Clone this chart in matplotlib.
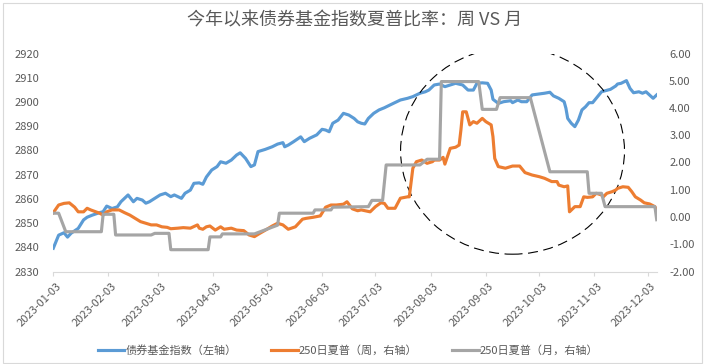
import matplotlib
matplotlib.use('Agg')
import matplotlib.pyplot as plt
import matplotlib.dates as mdates
from matplotlib.ticker import FormatStrFormatter, MultipleLocator
from matplotlib.patches import Ellipse, Rectangle
import matplotlib.transforms as mtransforms
import pandas as pd

plt.rcParams['font.family'] = ['Noto Sans CJK SC', 'DejaVu Sans']
plt.rcParams['axes.unicode_minus'] = False

TITLE = '今年以来债券基金指数夏普比率：周 VS 月'
LABEL_INDEX = '债券基金指数（左轴）'
LABEL_WEEK = '250日夏普（周，右轴）'
LABEL_MONTH = '250日夏普（月，右轴）'

# bond fund index (left axis)
index_dates = ['2023-01-03', '2023-01-06', '2023-01-09', '2023-01-11', '2023-01-13', '2023-01-17',
               '2023-01-20', '2023-01-22', '2023-01-25', '2023-01-29', '2023-01-31', '2023-02-02',
               '2023-02-05', '2023-02-08', '2023-02-10', '2023-02-12', '2023-02-14', '2023-02-17',
               '2023-02-19', '2023-02-22', '2023-02-24', '2023-02-26', '2023-03-01', '2023-03-04',
               '2023-03-07', '2023-03-10', '2023-03-12', '2023-03-14', '2023-03-16', '2023-03-18',
               '2023-03-21', '2023-03-23', '2023-03-26', '2023-03-28', '2023-03-30', '2023-04-02',
               '2023-04-05', '2023-04-07', '2023-04-10', '2023-04-13', '2023-04-16', '2023-04-18',
               '2023-04-21', '2023-04-24', '2023-04-26', '2023-04-28', '2023-05-02', '2023-05-06',
               '2023-05-09', '2023-05-12', '2023-05-13', '2023-05-15', '2023-05-18', '2023-05-22',
               '2023-05-24', '2023-05-27', '2023-05-31', '2023-06-03', '2023-06-05', '2023-06-07',
               '2023-06-09', '2023-06-12', '2023-06-15', '2023-06-18', '2023-06-21', '2023-06-23',
               '2023-06-25', '2023-06-27', '2023-06-29', '2023-07-02', '2023-07-05', '2023-07-08',
               '2023-07-11', '2023-07-13', '2023-07-17', '2023-07-21', '2023-07-24', '2023-07-28',
               '2023-07-31', '2023-08-02', '2023-08-05', '2023-08-08', '2023-08-11', '2023-08-14',
               '2023-08-17', '2023-08-21', '2023-08-24', '2023-08-27', '2023-08-29', '2023-09-01',
               '2023-09-04', '2023-09-06', '2023-09-07', '2023-09-10', '2023-09-13', '2023-09-17',
               '2023-09-18', '2023-09-21', '2023-09-23', '2023-09-26', '2023-09-29', '2023-10-03',
               '2023-10-06', '2023-10-09', '2023-10-11', '2023-10-14', '2023-10-17', '2023-10-18',
               '2023-10-19', '2023-10-21', '2023-10-23', '2023-10-25', '2023-10-27', '2023-10-29',
               '2023-10-31', '2023-11-02', '2023-11-04', '2023-11-07', '2023-11-09', '2023-11-12',
               '2023-11-15', '2023-11-16', '2023-11-18', '2023-11-21', '2023-11-23', '2023-11-25',
               '2023-11-28', '2023-11-30', '2023-12-02', '2023-12-05', '2023-12-06', '2023-12-08']
index_values = [2839.6, 2845.0, 2846.0, 2844.2, 2845.8, 2847.8,
                2851.3, 2852.4, 2853.3, 2854.3, 2854.7, 2857.0,
                2856.0, 2856.7, 2858.8, 2860.2, 2861.6, 2858.8,
                2860.2, 2859.5, 2858.2, 2858.8, 2860.2, 2861.6,
                2862.3, 2860.9, 2861.6, 2860.9, 2860.2, 2862.3,
                2863.6, 2866.4, 2866.6, 2866.0, 2869.0, 2871.9,
                2873.3, 2875.3, 2874.7, 2876.0, 2878.1, 2879.0,
                2876.7, 2873.3, 2874.0, 2879.5, 2880.4, 2881.5,
                2882.6, 2883.2, 2881.5, 2882.2, 2883.6, 2885.6,
                2883.6, 2885.0, 2886.4, 2888.7, 2888.4, 2887.7,
                2891.2, 2892.5, 2895.3, 2894.6, 2893.2, 2891.8,
                2891.2, 2890.9, 2893.2, 2895.3, 2896.7, 2897.6,
                2898.7, 2899.4, 2900.8, 2901.5, 2902.2, 2903.6,
                2904.2, 2904.9, 2907.0, 2907.4, 2906.3, 2907.0,
                2907.7, 2907.0, 2904.9, 2904.9, 2907.7, 2907.9,
                2907.7, 2904.9, 2901.1, 2899.4, 2900.1, 2900.5,
                2899.7, 2900.8, 2900.1, 2900.1, 2902.9, 2903.3,
                2903.6, 2904.0, 2902.5, 2901.5, 2900.1, 2897.4,
                2893.2, 2891.2, 2889.8, 2892.5, 2896.7, 2898.0,
                2899.7, 2899.7, 2901.5, 2904.2, 2904.6, 2905.2,
                2906.6, 2907.4, 2907.7, 2908.8, 2905.6, 2903.8,
                2904.2, 2903.6, 2904.2, 2902.2, 2901.5, 2902.9]

# 250-day Sharpe, weekly (right axis)
weekly_dates = ['2023-01-03', '2023-01-06', '2023-01-09', '2023-01-12', '2023-01-15', '2023-01-17',
                '2023-01-20', '2023-01-22', '2023-01-24', '2023-01-29', '2023-01-31', '2023-02-02',
                '2023-02-05', '2023-02-09', '2023-02-12', '2023-02-15', '2023-02-18', '2023-02-21',
                '2023-02-24', '2023-02-27', '2023-03-02', '2023-03-05', '2023-03-08', '2023-03-10',
                '2023-03-14', '2023-03-17', '2023-03-21', '2023-03-25', '2023-03-26', '2023-03-28',
                '2023-03-30', '2023-04-01', '2023-04-04', '2023-04-07', '2023-04-09', '2023-04-13',
                '2023-04-16', '2023-04-20', '2023-04-23', '2023-04-26', '2023-04-29', '2023-05-03',
                '2023-05-06', '2023-05-09', '2023-05-12', '2023-05-15', '2023-05-19', '2023-05-23',
                '2023-05-25', '2023-05-29', '2023-06-02', '2023-06-05', '2023-06-08', '2023-06-11',
                '2023-06-15', '2023-06-17', '2023-06-20', '2023-06-23', '2023-06-25', '2023-06-30',
                '2023-07-03', '2023-07-06', '2023-07-08', '2023-07-10', '2023-07-14', '2023-07-17',
                '2023-07-21', '2023-07-22', '2023-07-24', '2023-07-26', '2023-07-29', '2023-08-01',
                '2023-08-04', '2023-08-05', '2023-08-08', '2023-08-10', '2023-08-11', '2023-08-14',
                '2023-08-17', '2023-08-19', '2023-08-20', '2023-08-21', '2023-08-23', '2023-08-25',
                '2023-08-27', '2023-08-29', '2023-09-01', '2023-09-03', '2023-09-06', '2023-09-07',
                '2023-09-08', '2023-09-10', '2023-09-14', '2023-09-18', '2023-09-22', '2023-09-25',
                '2023-09-29', '2023-10-03', '2023-10-06', '2023-10-10', '2023-10-13', '2023-10-14',
                '2023-10-17', '2023-10-19', '2023-10-20', '2023-10-23', '2023-10-26', '2023-10-28',
                '2023-10-30', '2023-11-02', '2023-11-04', '2023-11-07', '2023-11-08', '2023-11-10',
                '2023-11-13', '2023-11-15', '2023-11-16', '2023-11-19', '2023-11-22', '2023-11-24',
                '2023-11-26', '2023-11-29', '2023-12-01', '2023-12-04', '2023-12-07', '2023-12-08']
weekly_sharpe = [0.16, 0.44, 0.50, 0.52, 0.36, 0.19,
                 0.19, 0.32, 0.26, 0.14, 0.07, 0.19,
                 0.26, 0.26, 0.16, 0.07, -0.05, -0.17,
                 -0.23, -0.29, -0.29, -0.36, -0.38, -0.43,
                 -0.41, -0.39, -0.41, -0.29, -0.41, -0.45,
                 -0.36, -0.33, -0.48, -0.36, -0.45, -0.41,
                 -0.48, -0.50, -0.66, -0.72, -0.60, -0.45,
                 -0.33, -0.23, -0.29, -0.45, -0.36, -0.08,
                 -0.05, -0.01, 0.04, 0.36, 0.44, 0.44,
                 0.47, 0.56, 0.30, 0.23, 0.26, 0.19,
                 0.38, 0.52, 0.50, 0.32, 0.32, 0.69,
                 0.74, 0.74, 1.79, 2.03, 2.09, 1.97,
                 2.03, 2.09, 2.09, 2.19, 1.94, 2.52,
                 2.56, 2.64, 3.19, 3.86, 3.86, 3.38,
                 3.50, 3.44, 3.62, 3.50, 3.38, 2.95,
                 2.15, 1.85, 1.79, 1.87, 1.87, 1.63,
                 1.54, 1.48, 1.42, 1.30, 1.30, 1.17,
                 1.11, 1.14, 0.19, 0.38, 0.38, 0.74,
                 0.72, 0.74, 0.87, 0.81, 0.74, 0.87,
                 0.93, 0.99, 1.05, 1.11, 1.09, 0.93,
                 0.74, 0.62, 0.52, 0.48, 0.38, 0.22]

# 250-day Sharpe, monthly (right axis)
monthly_dates = ['2023-01-03', '2023-01-06', '2023-01-10', '2023-01-30', '2023-01-31', '2023-02-06',
                 '2023-02-07', '2023-02-27', '2023-03-01', '2023-03-09', '2023-03-10', '2023-03-31',
                 '2023-04-01', '2023-04-07', '2023-04-08', '2023-04-26', '2023-05-09', '2023-05-10',
                 '2023-05-29', '2023-05-30', '2023-06-08', '2023-06-09', '2023-06-29', '2023-07-01',
                 '2023-07-07', '2023-07-09', '2023-07-28', '2023-08-01', '2023-08-08', '2023-08-09',
                 '2023-08-30', '2023-09-01', '2023-09-09', '2023-09-11', '2023-09-28', '2023-10-09',
                 '2023-10-30', '2023-10-31', '2023-11-07', '2023-11-09', '2023-12-07', '2023-12-08']
monthly_sharpe = [0.14, 0.14, -0.54, -0.54, 0.10, 0.10,
                  -0.66, -0.66, -0.60, -0.60, -1.20, -1.20,
                  -0.73, -0.73, -0.62, -0.62, -0.30, 0.14,
                  0.14, 0.26, 0.26, 0.36, 0.38, 0.61,
                  0.61, 1.91, 1.91, 2.12, 2.12, 4.97,
                  4.97, 3.95, 3.95, 4.38, 4.38, 1.66,
                  1.66, 0.87, 0.87, 0.38, 0.38, -0.10]

month_ticks = ['2023-01-03', '2023-02-03', '2023-03-03', '2023-04-03', '2023-05-03', '2023-06-03',
               '2023-07-03', '2023-08-03', '2023-09-03', '2023-10-03', '2023-11-03', '2023-12-03']

BLUE = '#5B9BD5'
ORANGE = '#ED7D31'
GREY = '#A5A5A5'
TXT = '#595959'
LINE = '#D9D9D9'

fig = plt.figure(figsize=(7.05, 3.64), dpi=100)
ax1 = fig.add_axes([53.3 / 705, 1 - 271.5 / 364, 603.4 / 705, 218 / 364])
ax2 = ax1.twinx()

l1, = ax1.plot(pd.to_datetime(index_dates), index_values, color=BLUE, lw=2.25, label=LABEL_INDEX)
l2, = ax2.plot(pd.to_datetime(weekly_dates), weekly_sharpe, color=ORANGE, lw=2.25, label=LABEL_WEEK)
l3, = ax2.plot(pd.to_datetime(monthly_dates), monthly_sharpe, color=GREY, lw=2.25, label=LABEL_MONTH)

ax1.set_xlim(pd.Timestamp('2023-01-03'), pd.Timestamp('2023-12-08'))
ax1.set_ylim(2830, 2920)
ax1.yaxis.set_major_locator(MultipleLocator(10))
ax2.set_ylim(-2, 6)
ax2.yaxis.set_major_locator(MultipleLocator(1))
ax2.yaxis.set_major_formatter(FormatStrFormatter('%.2f'))

ax1.set_xticks(pd.to_datetime(month_ticks))
ax1.xaxis.set_major_formatter(mdates.DateFormatter('%Y-%m-%d'))

for s in ['top', 'left', 'right']:
    ax1.spines[s].set_visible(False)
for s in ax2.spines.values():
    s.set_visible(False)
ax1.spines['bottom'].set_color(LINE)
ax1.tick_params(axis='x', colors=LINE, length=3, width=0.8, labelcolor=TXT, labelsize=8, pad=4)
ax1.tick_params(axis='y', length=0, labelcolor=TXT, labelsize=8, pad=10)
ax2.tick_params(axis='y', length=0, labelcolor=TXT, labelsize=8, pad=9)

offset = mtransforms.ScaledTranslation(2 / 72, 0, fig.dpi_scale_trans)
for lab in ax1.get_xticklabels():
    lab.set_rotation(45)
    lab.set_ha('right')
    lab.set_va('top')
    lab.set_rotation_mode('anchor')
    lab.set_transform(lab.get_transform() + offset)

# dashed circle highlighting Aug-Nov
center = mdates.date2num(pd.Timestamp('2023-09-18'))
ax2.add_patch(Ellipse((center, 2.43), 125.8, 7.59, fill=False, edgecolor='black',
                      lw=0.8, linestyle=(0, (9, 5))))

fig.text(355 / 705, 1 - 20 / 364, TITLE, ha='center', va='center', fontsize=13, color=TXT)

fig.legend([l1, l2, l3], [LABEL_INDEX, LABEL_WEEK, LABEL_MONTH], loc='center',
           bbox_to_anchor=(348 / 705, 1 - 350 / 364), ncol=3, frameon=False,
           fontsize=8, labelcolor=TXT, handlelength=2.4, handletextpad=0.1,
           columnspacing=3.1)

fig.patches.append(Rectangle((3 / 705, 1 / 364), 699 / 705, 360 / 364, transform=fig.transFigure,
                             fill=False, edgecolor=LINE, lw=0.8))

fig.savefig('out.png', dpi=100)
